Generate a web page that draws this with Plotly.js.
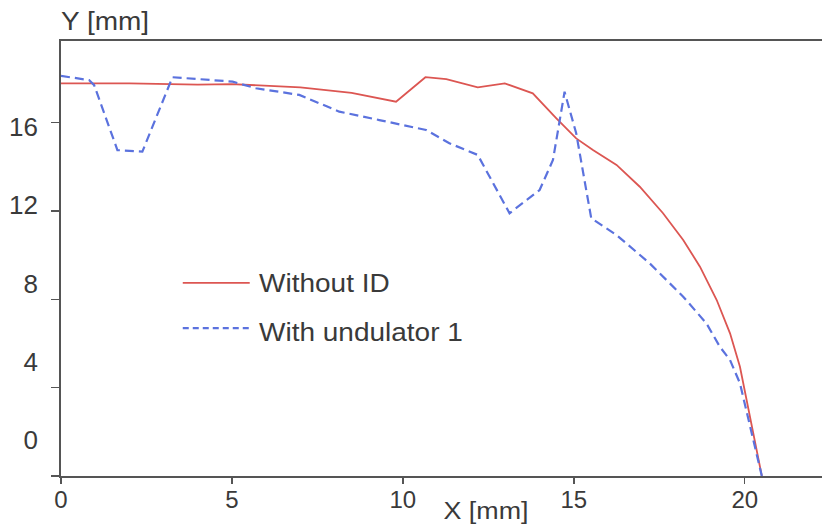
<!DOCTYPE html>
<html>
<head>
<meta charset="utf-8">
<script src="https://cdn.plot.ly/plotly-3.0.1.min.js"></script>
<style>
  html, body { margin: 0; padding: 0; background: #ffffff; }
  #chart { width: 822px; height: 527px; }
</style>
</head>
<body>
<div id="chart"></div>
<script>
// Beam aperture profile, Y versus X in millimetres
const seriesNames = ['Without ID', 'With undulator 1'];

const xWithoutId = [0, 2, 4, 5, 7, 8.5, 9.8, 10.66, 11.27, 12.19, 12.98, 13.8, 14.49, 15.07, 15.56,
  16.25, 16.93, 17.61, 18.2, 18.69, 19.18, 19.57, 19.86, 20.05, 20.25, 20.5];
const yWithoutId = [17.78, 17.78, 17.72, 17.75, 17.6, 17.35, 16.95, 18.06, 17.97, 17.6, 17.78, 17.33, 16.2, 15.29, 14.76,
  14.09, 13.1, 11.9, 10.69, 9.48, 7.97, 6.46, 4.95, 3.44, 1.93, 0];

const xUndulator1 = [0, 0.82, 0.97, 1.65, 2.38, 3.26, 5.02, 5.7, 6.97, 8.14, 9.31, 10.68, 11.36, 12.19,
  13.12, 14.0, 14.39, 14.73, 15.07, 15.51, 16.25, 17.22, 18.2, 18.88, 19.27, 19.57, 19.86, 20.05, 20.25, 20.5];
const yUndulator1 = [18.12, 17.93, 17.7, 14.76, 14.69, 18.06, 17.86, 17.56, 17.26, 16.5, 16.12, 15.67, 15.07, 14.54,
  11.9, 12.95, 14.31, 17.4, 15.52, 11.67, 10.91, 9.63, 8.12, 6.91, 5.86, 5.25, 4.2, 2.99, 1.63, 0];

const xTicks = [0, 5, 10, 15, 20];
const yTicks = [0, 4, 8, 12, 16];

const redColor = '#dc5652';
const blueColor = '#5b72de';
const axisColor = '#555555';
const textColor = '#3a3a3a';
const fontFamily = '"Liberation Sans", Arial, sans-serif';

// horizontal widening applied to the key and axis-title text
const textStretch = 1.12;

const traces = [
  {
    x: xWithoutId, y: yWithoutId, name: seriesNames[0], type: 'scatter', mode: 'lines',
    line: { color: redColor, width: 1.8 }, showlegend: false, hoverinfo: 'skip'
  },
  {
    x: xUndulator1, y: yUndulator1, name: seriesNames[1], type: 'scatter', mode: 'lines',
    line: { color: blueColor, width: 2.2, dash: '9px,5px' }, showlegend: false, hoverinfo: 'skip'
  },
  // invisible carrier for the left label column
  {
    x: [0], y: [0], yaxis: 'y2', type: 'scatter', mode: 'markers',
    marker: { opacity: 0 }, showlegend: false, hoverinfo: 'skip'
  }
];

// hand-placed key in the lower-left of the plot area
const keyRows = [
  { name: seriesNames[0], color: redColor, dash: 'solid', width: 1.8, y: 0.444, ty: 0.444 },
  { name: seriesNames[1], color: blueColor, dash: '6px,4px', width: 2.2, y: 0.340, ty: 0.332 }
];

const shapes = keyRows.map(r => ({
  type: 'line', xref: 'paper', yref: 'paper',
  x0: 0.160, x1: 0.248, y0: r.y, y1: r.y,
  line: { color: r.color, width: r.width, dash: r.dash }
}));

const annotations = keyRows.map(r => ({
  text: r.name, xref: 'paper', yref: 'paper', x: 0.257, y: r.ty,
  xanchor: 'left', yanchor: 'middle', showarrow: false,
  font: { family: fontFamily, size: 25, color: textColor }
}));

annotations.push({
  text: 'Y [mm]', xref: 'paper', yref: 'paper', x: -0.002, y: 1.045,
  xanchor: 'left', yanchor: 'middle', showarrow: false,
  font: { family: fontFamily, size: 25, color: textColor }
});
annotations.push({
  text: 'X [mm]', xref: 'paper', yref: 'paper', x: 0.558, y: -0.080,
  xanchor: 'center', yanchor: 'middle', showarrow: false,
  font: { family: fontFamily, size: 24, color: textColor }
});

// which edge each annotation stays pinned to when widened
const stretchPins = ['left', 'left', 'left', 'center'];

const layout = {
  width: 822, height: 527,
  margin: { l: 61, r: 0, t: 41, b: 51, pad: 0 },
  paper_bgcolor: '#ffffff', plot_bgcolor: '#ffffff',
  showlegend: false,
  xaxis: {
    range: [0, 22.26], tickvals: xTicks, ticktext: xTicks.map(String),
    showgrid: false, zeroline: false,
    showline: true, linecolor: axisColor, linewidth: 2, mirror: true,
    ticks: 'outside', ticklen: 6, tickwidth: 1.5, tickcolor: axisColor,
    ticklabelstandoff: -5,
    tickfont: { family: fontFamily, size: 24, color: textColor }
  },
  yaxis: {
    range: [0, 19.7], tickvals: yTicks,
    showgrid: false, zeroline: false, showticklabels: false,
    showline: true, linecolor: axisColor, linewidth: 2,
    ticks: 'outside', ticklen: 8, tickwidth: 1.5, tickcolor: axisColor
  },
  yaxis2: {
    overlaying: 'y', side: 'left', range: [-1.84, 20.4], tickvals: yTicks,
    ticktext: yTicks.map(String),
    showgrid: false, zeroline: false, showline: false, ticks: '',
    ticklabelstandoff: 22,
    tickfont: { family: fontFamily, size: 26, color: textColor }
  },
  shapes: shapes,
  annotations: annotations
};

// widen a text element horizontally, keeping the chosen edge in place
function widen(el, factor, pin) {
  const box = el.getBBox();
  const cx = pin === 'left' ? box.x : box.x + box.width / 2;
  const prev = el.getAttribute('transform') || '';
  el.setAttribute('transform',
    prev + ' translate(' + cx + ',0) scale(' + factor + ',1) translate(' + (-cx) + ',0)');
}

Plotly.newPlot('chart', traces, layout, { displayModeBar: false, staticPlot: true }).then(gd => {
  gd.querySelectorAll('.annotation').forEach((g, i) => {
    const el = g.querySelector('.annotation-text');
    if (el) widen(el, textStretch, stretchPins[i] || 'center');
  });
});
</script>
</body>
</html>
